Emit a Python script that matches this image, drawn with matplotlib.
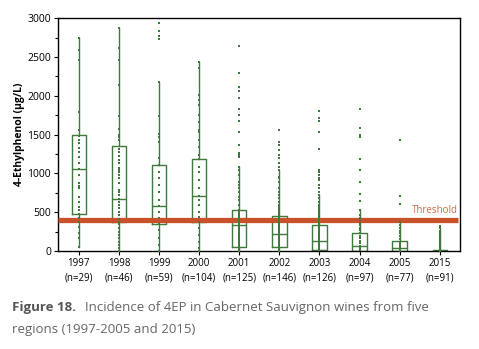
"""
Incidence of 4EP in Cabernet Sauvignon wines - box plots with all points.
"""

import matplotlib.pyplot as plt
from matplotlib.ticker import MultipleLocator

# Data
years = ["1997", "1998", "1999", "2000", "2001", "2002", "2003", "2004", "2005", "2015"]
n_counts = [29, 46, 59, 104, 125, 146, 126, 97, 77, 91]

q1 = [472, 373, 343, 370, 55, 48, 10, 0, 0, 0]
median = [1052, 670, 573, 702, 331, 215, 129, 60, 35, 2]
q3 = [1490, 1352, 1107, 1181, 524, 451, 331, 228, 129, 12]
whisker_low = [47, 0, 0, 0, 0, 0, 0, 0, 0, 0]
whisker_high = [2739, 2867, 2180, 2438, 1086, 1043, 720, 528, 377, 300]

threshold = 395

points = [
    [2739, 2588, 2459, 1786, 1554, 1485, 1429, 1386, 1330, 1270, 1215, 1129, 1052,
     979, 871, 841, 815, 699, 635, 571, 528, 480, 421, 378, 313, 228, 163, 47],
    [2867, 2610, 2455, 2137, 1743, 1571, 1494, 1464, 1429, 1313, 1270, 1227, 1172,
     1129, 1073, 1043, 1013, 979, 936, 871, 785, 764, 721, 670, 635, 592, 549, 506,
     464, 412, 373, 343, 292, 249, 206, 163, 120, 77, 34, 0],
    [2940, 2830, 2770, 2730, 2180, 1742, 1502, 1472, 1408, 1193, 1107, 1021, 936,
     850, 764, 657, 573, 506, 421, 343, 270, 163, 77, 0],
    [2438, 2352, 2009, 1944, 1880, 1751, 1665, 1558, 1536, 1429, 1343, 1236, 1180,
     1086, 1021, 914, 807, 702, 657, 592, 506, 442, 369, 292, 206, 120, 34, 0],
    [2640, 2296, 2116, 2060, 1966, 1824, 1751, 1674, 1528, 1365, 1258, 1236, 1215,
     1086, 1043, 979, 893, 850, 807, 764, 699, 657, 592, 528, 505, 487, 462, 445,
     418, 402, 377, 361, 338, 322, 296, 281, 259, 236, 221, 198, 183, 157, 141, 118,
     99, 82, 58, 41, 19, 5],
    [1558, 1408, 1365, 1300, 1236, 1193, 1129, 1086, 1043, 957, 936, 893, 807, 764,
     721, 679, 635, 592, 560, 538, 515, 497, 474, 455, 433, 412, 396, 371, 352, 334,
     311, 293, 272, 251, 233, 214, 192, 171, 154, 133, 112, 94, 73, 52, 31, 12, 0],
    [1803, 1709, 1674, 1536, 1313, 1043, 1021, 979, 936, 914, 850, 807, 764, 721,
     679, 635, 592, 566, 541, 518, 494, 472, 451, 428, 405, 383, 361, 337, 314, 292,
     270, 248, 226, 203, 181, 158, 136, 114, 92, 69, 47, 25, 6],
    [1828, 1580, 1494, 1472, 1183, 1037, 882, 738, 640, 528, 464, 430, 395, 362,
     331, 298, 264, 231, 198, 165, 131, 99, 66, 33, 8],
    [1429, 710, 610, 377, 340, 300, 262, 225, 190, 150, 120, 90, 60, 35, 10, 0],
    [326, 300, 262, 240, 215, 190, 165, 140, 115, 90, 65, 40, 20, 5, 0],
]

green = "#3e7a3a"
orange = "#c8502a"
plt.rcParams["font.family"] = ["Open Sans", "DejaVu Sans"]

fig = plt.figure(figsize=(4.79, 3.49), dpi=100)
ax = fig.add_axes([0.121, 0.281, 0.839, 0.667])

stats = []
for i, y in enumerate(years):
    stats.append(
        dict(med=median[i], q1=q1[i], q3=q3[i], whislo=whisker_low[i],
             whishi=whisker_high[i], fliers=[], label=y)
    )
pos = list(range(len(years)))
ax.bxp(
    stats, positions=pos, widths=0.36, showcaps=False, showfliers=False,
    patch_artist=False,
    boxprops=dict(color=green, linewidth=1.0),
    medianprops=dict(color=green, linewidth=1.0),
    whiskerprops=dict(color=green, linewidth=1.0),
    zorder=2,
)

# threshold band
ax.plot([-0.52, 9.45], [threshold, threshold], color=orange, linewidth=3.8,
        solid_capstyle="butt", zorder=3)
ax.text(9.45, threshold + 50, "Threshold", ha="right", va="bottom",
        fontsize=7, color="#d56a45")

for i, vals in enumerate(points):
    ax.plot([pos[i]] * len(vals), vals, linestyle="none", marker="s",
            markersize=2.1, markeredgewidth=0, color=green, zorder=4,
            clip_on=False)

ax.set_xlim(-0.52, 9.5)
ax.set_ylim(0, 3000)
ax.yaxis.set_major_locator(MultipleLocator(500))
ax.yaxis.set_minor_locator(MultipleLocator(250))
ax.set_xticks(pos)
ax.set_xticklabels([f"{y}\n(n={n})" for y, n in zip(years, n_counts)],
                   fontsize=7, linespacing=1.45)
ax.tick_params(axis="y", labelsize=7.5, length=3, width=0.8, pad=2)
ax.tick_params(axis="y", which="minor", length=2, width=0.8)
ax.tick_params(axis="x", length=3, width=0.8, pad=2)
ax.set_ylabel("4-Ethylphenol (µg/L)", fontsize=7.5, fontweight="bold")
ax.yaxis.set_label_coords(-0.082, 0.5)
for s in ax.spines.values():
    s.set_linewidth(1.0)

# caption
fig.text(12 / 479, 1 - 308 / 349, "Figure 18.", fontsize=9.5, fontweight="bold",
         color="#555555", va="center", ha="left")
fig.text(85 / 479, 1 - 308 / 349,
         "Incidence of 4EP in Cabernet Sauvignon wines from five",
         fontsize=9.5, color="#666666", va="center", ha="left")
fig.text(12 / 479, 1 - 330 / 349, "regions (1997-2005 and 2015)", fontsize=9.5,
         color="#666666", va="center", ha="left")

fig.savefig("out.png", dpi=100)
